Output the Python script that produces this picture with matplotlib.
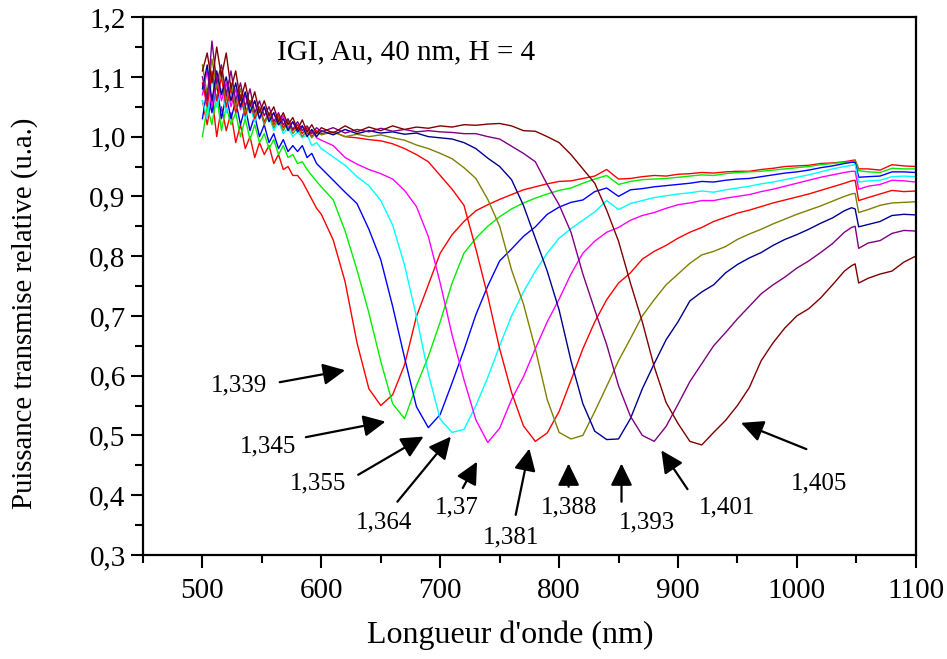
import matplotlib
matplotlib.use("Agg")
import matplotlib.pyplot as plt
from matplotlib.ticker import MultipleLocator, FuncFormatter
import numpy as np

plt.rcParams['font.family'] = ['Liberation Serif', 'DejaVu Serif']

# wavelength grid (nm)
wl_a = [500, 504, 508, 512, 516, 520, 524, 528, 532, 536, 540, 544, 548, 552,
        556, 560, 564, 568, 572, 576, 580, 584, 588, 592, 596]
wl_b = list(range(600, 1041, 10))
wl_c = [1046, 1049, 1052, 1060, 1070, 1080, 1090, 1100]
wavelength = wl_a + wl_b + wl_c

n1339 = [1.06, 1.02, 1.07, 1.00, 1.05, 1.01, 1.04, 0.99, 1.02, 0.98, 1.00, 0.965, 0.99, 0.97, 0.985, 0.955, 0.97, 0.945, 0.95, 0.935, 0.935, 0.925, 0.91, 0.895, 0.88,
         0.870, 0.827, 0.757, 0.655, 0.578, 0.550, 0.568, 0.618, 0.699, 0.752, 0.805, 0.836, 0.858, 0.876, 0.886, 0.895, 0.903, 0.911, 0.916, 0.921, 0.925, 0.926, 0.930, 0.934, 0.945, 0.929, 0.930, 0.933, 0.935, 0.934, 0.937, 0.938, 0.940, 0.939, 0.941, 0.942, 0.942, 0.945, 0.947, 0.950, 0.951, 0.952, 0.955, 0.956, 0.958,
         0.960, 0.961, 0.946, 0.946, 0.944, 0.953, 0.951, 0.950]
n1345 = [1.00, 1.05, 1.02, 1.07, 1.01, 1.05, 1.02, 1.04, 1.00, 1.03, 0.995, 1.02, 0.99, 1.005, 0.98, 0.995, 0.97, 0.985, 0.965, 0.97, 0.955, 0.958, 0.945, 0.935, 0.925,
         0.916, 0.894, 0.842, 0.777, 0.705, 0.624, 0.553, 0.528, 0.583, 0.632, 0.690, 0.755, 0.805, 0.830, 0.850, 0.866, 0.879, 0.889, 0.897, 0.904, 0.910, 0.914, 0.922, 0.929, 0.935, 0.920, 0.925, 0.928, 0.929, 0.930, 0.932, 0.934, 0.936, 0.935, 0.938, 0.940, 0.941, 0.942, 0.944, 0.946, 0.948, 0.950, 0.953, 0.955, 0.957,
         0.958, 0.959, 0.943, 0.941, 0.940, 0.947, 0.946, 0.946]
n1355 = [1.03, 1.08, 1.04, 1.09, 1.03, 1.07, 1.03, 1.06, 1.02, 1.05, 1.01, 1.035, 1.00, 1.02, 0.99, 1.005, 0.98, 0.995, 0.975, 0.985, 0.975, 0.985, 0.965, 0.972, 0.955,
         0.947, 0.927, 0.907, 0.888, 0.845, 0.794, 0.716, 0.630, 0.548, 0.513, 0.535, 0.588, 0.643, 0.702, 0.750, 0.792, 0.812, 0.833, 0.849, 0.870, 0.882, 0.890, 0.894, 0.908, 0.914, 0.900, 0.911, 0.913, 0.916, 0.918, 0.920, 0.922, 0.925, 0.924, 0.927, 0.929, 0.930, 0.933, 0.936, 0.939, 0.941, 0.944, 0.948, 0.951, 0.955,
         0.957, 0.957, 0.932, 0.933, 0.934, 0.941, 0.941, 0.940]
n1364 = [1.06, 1.03, 1.10, 1.05, 1.08, 1.04, 1.09, 1.04, 1.07, 1.03, 1.05, 1.025, 1.045, 1.02, 1.035, 1.01, 1.025, 1.005, 1.015, 1.0, 1.008, 0.998, 1.003, 0.985, 0.99,
         0.980, 0.966, 0.952, 0.933, 0.918, 0.893, 0.852, 0.785, 0.699, 0.603, 0.527, 0.505, 0.510, 0.550, 0.597, 0.650, 0.700, 0.740, 0.775, 0.805, 0.830, 0.846, 0.860, 0.874, 0.893, 0.878, 0.888, 0.893, 0.898, 0.901, 0.904, 0.906, 0.909, 0.907, 0.911, 0.914, 0.917, 0.921, 0.924, 0.928, 0.932, 0.936, 0.941, 0.946, 0.950,
         0.952, 0.953, 0.924, 0.926, 0.927, 0.933, 0.934, 0.933]
n1370 = [1.07, 1.11, 1.05, 1.10, 1.06, 1.09, 1.05, 1.08, 1.045, 1.07, 1.04, 1.06, 1.03, 1.05, 1.03, 1.04, 1.02, 1.035, 1.015, 1.025, 1.012, 1.018, 1.005, 1.01, 0.998,
         0.994, 0.985, 0.965, 0.954, 0.945, 0.938, 0.929, 0.910, 0.883, 0.833, 0.755, 0.668, 0.593, 0.526, 0.488, 0.512, 0.560, 0.598, 0.645, 0.690, 0.728, 0.770, 0.805, 0.825, 0.840, 0.848, 0.860, 0.868, 0.873, 0.880, 0.886, 0.889, 0.893, 0.893, 0.897, 0.900, 0.903, 0.908, 0.912, 0.917, 0.922, 0.927, 0.932, 0.936, 0.940,
         0.942, 0.942, 0.912, 0.917, 0.920, 0.927, 0.926, 0.924]
n1381 = [1.09, 1.05, 1.11, 1.06, 1.10, 1.05, 1.08, 1.04, 1.07, 1.035, 1.06, 1.03, 1.05, 1.025, 1.04, 1.02, 1.035, 1.015, 1.028, 1.01, 1.02, 1.005, 1.015, 1.0, 1.01,
         1.005, 1.008, 1.0, 0.998, 0.995, 0.993, 0.988, 0.980, 0.970, 0.958, 0.935, 0.912, 0.885, 0.812, 0.733, 0.645, 0.572, 0.516, 0.490, 0.504, 0.540, 0.592, 0.645, 0.690, 0.727, 0.755, 0.772, 0.795, 0.808, 0.818, 0.830, 0.840, 0.848, 0.858, 0.865, 0.872, 0.877, 0.883, 0.889, 0.894, 0.899, 0.904, 0.910, 0.916, 0.922,
         0.926, 0.927, 0.893, 0.898, 0.904, 0.910, 0.908, 0.909]
n1388 = [1.12, 1.07, 1.13, 1.08, 1.11, 1.06, 1.09, 1.05, 1.08, 1.04, 1.06, 1.035, 1.05, 1.02, 1.04, 1.015, 1.03, 1.01, 1.025, 1.005, 1.015, 1.0, 1.01, 0.998, 1.008,
         1.003, 1.008, 1.0, 1.004, 1.0, 1.003, 0.998, 0.994, 0.986, 0.980, 0.972, 0.963, 0.948, 0.930, 0.895, 0.850, 0.777, 0.720, 0.645, 0.560, 0.505, 0.494, 0.500, 0.540, 0.582, 0.625, 0.662, 0.700, 0.727, 0.752, 0.770, 0.788, 0.802, 0.808, 0.816, 0.828, 0.837, 0.845, 0.854, 0.862, 0.870, 0.877, 0.884, 0.892, 0.900,
         0.904, 0.905, 0.873, 0.878, 0.885, 0.889, 0.890, 0.891]
n1393 = [1.08, 1.12, 1.06, 1.11, 1.07, 1.10, 1.06, 1.09, 1.05, 1.075, 1.04, 1.06, 1.03, 1.05, 1.025, 1.04, 1.02, 1.03, 1.01, 1.025, 1.008, 1.018, 1.0, 1.012, 1.0,
         1.01, 1.003, 1.012, 1.005, 1.01, 1.006, 1.008, 1.004, 1.006, 1.0, 0.998, 0.996, 0.990, 0.980, 0.964, 0.950, 0.928, 0.885, 0.830, 0.775, 0.710, 0.625, 0.553, 0.507, 0.493, 0.494, 0.528, 0.578, 0.620, 0.660, 0.690, 0.725, 0.740, 0.752, 0.772, 0.786, 0.797, 0.806, 0.818, 0.828, 0.836, 0.845, 0.855, 0.864, 0.876,
         0.881, 0.879, 0.849, 0.853, 0.858, 0.868, 0.870, 0.869]
n1401 = [1.10, 1.06, 1.16, 1.09, 1.12, 1.07, 1.11, 1.06, 1.09, 1.05, 1.08, 1.04, 1.06, 1.035, 1.05, 1.025, 1.04, 1.02, 1.03, 1.012, 1.025, 1.01, 1.018, 1.005, 1.015,
         1.008, 1.015, 1.006, 1.012, 1.008, 1.014, 1.009, 1.012, 1.008, 1.01, 1.008, 1.007, 1.005, 1.005, 1.0, 0.996, 0.984, 0.972, 0.958, 0.920, 0.886, 0.840, 0.770, 0.710, 0.652, 0.583, 0.532, 0.500, 0.490, 0.515, 0.552, 0.590, 0.620, 0.650, 0.672, 0.695, 0.716, 0.737, 0.752, 0.765, 0.780, 0.792, 0.806, 0.821, 0.840,
         0.848, 0.850, 0.813, 0.822, 0.826, 0.838, 0.843, 0.842]
n1405 = [1.11, 1.14, 1.09, 1.15, 1.10, 1.14, 1.08, 1.11, 1.06, 1.09, 1.05, 1.075, 1.04, 1.06, 1.035, 1.05, 1.025, 1.04, 1.02, 1.032, 1.012, 1.028, 1.008, 1.02, 1.005,
         1.015, 1.006, 1.018, 1.008, 1.016, 1.01, 1.018, 1.012, 1.016, 1.014, 1.018, 1.016, 1.02, 1.019, 1.021, 1.022, 1.018, 1.01, 1.009, 1.0, 0.99, 0.97, 0.946, 0.922, 0.877, 0.825, 0.755, 0.690, 0.615, 0.555, 0.520, 0.490, 0.484, 0.505, 0.525, 0.550, 0.580, 0.625, 0.655, 0.680, 0.700, 0.712, 0.730, 0.752, 0.775,
         0.784, 0.787, 0.755, 0.763, 0.770, 0.775, 0.790, 0.800]

series = [n1339, n1345, n1355, n1364, n1370, n1381, n1388, n1393, n1401, n1405]
colors = ['#FF0000', '#00EE00', '#0000FF', '#00FFFF', '#FF00FF',
          '#FF0000', '#808000', '#000090', '#800080', '#800000']

labels = ['1,339', '1,345', '1,355', '1,364', '1,37', '1,381', '1,388', '1,393', '1,401', '1,405']
label_pos = [(531, 0.583), (555, 0.482), (597, 0.420), (653, 0.355), (714, 0.379),
             (760, 0.330), (808, 0.379), (874, 0.355), (941, 0.379), (1019, 0.420)]
arrow_tail = [(565, 0.589), (587, 0.497), (631, 0.434), (664, 0.389), (719, 0.412),
              (763.5, 0.367), (808, 0.414), (852.5, 0.389), (908, 0.410), (1008, 0.477)]
arrow_head = [(620, 0.609), (654, 0.523), (686, 0.498), (709, 0.498), (731, 0.456),
              (775, 0.478), (808, 0.453), (852.5, 0.453), (886, 0.475), (953, 0.521)]

x_ticks = [500, 600, 700, 800, 900, 1000, 1100]
y_ticks = [0.3, 0.4, 0.5, 0.6, 0.7, 0.8, 0.9, 1.0, 1.1, 1.2]

fig = plt.figure(figsize=(9.47, 6.59), dpi=100)
ax = fig.add_axes([0.151, 0.158, 0.816, 0.816])

for s, c in zip(series, colors):
    ax.plot(wavelength, s, color=c, lw=1.0)

ax.set_xlim(450, 1100)
ax.set_ylim(0.3, 1.2)
ax.set_xticks(x_ticks)
ax.set_yticks(y_ticks)
ax.xaxis.set_minor_locator(MultipleLocator(50))
ax.yaxis.set_minor_locator(MultipleLocator(0.05))
ax.yaxis.set_major_formatter(FuncFormatter(lambda v, p: f"{v:.1f}".replace('.', ',')))
ax.tick_params(which='major', direction='out', length=9, width=1.5, labelsize=21)
ax.tick_params(which='minor', direction='out', length=6, width=1.5)
ax.tick_params(axis='x', pad=8)
for sp in ax.spines.values():
    sp.set_linewidth(1.6)

ax.set_xlabel("Longueur d'onde (nm)", fontsize=23, va='center')
ax.set_ylabel("Puissance transmise relative (u.a.)", fontsize=20.7, va='center')
ax.xaxis.set_label_coords(0.475, -0.150)
ax.yaxis.set_label_coords(-0.153, 0.45)

ax.text(563, 1.141, "IGI, Au, 40 nm, H = 4", fontsize=21, ha='left', va='center')

for lab, lp, t, h in zip(labels, label_pos, arrow_tail, arrow_head):
    ax.text(lp[0], lp[1], lab, fontsize=18, ha='center', va='center')
    ax.annotate('', xy=h, xytext=t,
                arrowprops=dict(arrowstyle='-|>,head_length=0.45,head_width=0.22',
                                mutation_scale=30, lw=1.6,
                                color='black', shrinkA=0, shrinkB=0))

fig.savefig('out.png', dpi=100)
